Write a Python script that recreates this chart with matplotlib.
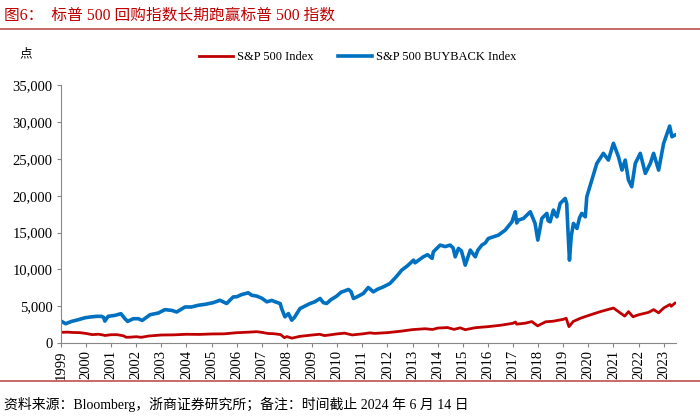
import numpy as np
import matplotlib
matplotlib.use("Agg")
import matplotlib.pyplot as plt
from matplotlib.ticker import FuncFormatter

# decimal years; tick labelled "1999" sits at the end of 1999 (= 2000.0)
spx_t = [2000.00, 2000.25, 2000.50, 2000.75, 2001.00, 2001.25, 2001.50, 2001.70,
         2001.75, 2002.00, 2002.25, 2002.50, 2002.60, 2002.75, 2003.00, 2003.20,
         2003.50, 2004.00, 2004.50, 2005.00, 2005.50, 2006.00, 2006.50, 2007.00,
         2007.50, 2007.80, 2008.00, 2008.25, 2008.50, 2008.75, 2008.90, 2009.00,
         2009.20, 2009.50, 2010.00, 2010.30, 2010.50, 2011.00, 2011.30, 2011.60,
         2012.00, 2012.30, 2012.50, 2013.00, 2013.50, 2014.00, 2014.50, 2014.80,
         2015.00, 2015.40, 2015.65, 2015.90, 2016.10, 2016.50, 2017.00, 2017.50,
         2018.00, 2018.10, 2018.15, 2018.50, 2018.75, 2018.98, 2019.30, 2019.60,
         2020.00, 2020.12, 2020.23, 2020.40, 2020.70, 2021.00, 2021.50, 2022.00,
         2022.45, 2022.60, 2022.78, 2023.00, 2023.40, 2023.60, 2023.80, 2024.00,
         2024.25, 2024.30, 2024.45]
spx_v = [1469, 1500, 1450, 1430, 1320, 1160, 1220, 1100,
         1040, 1150, 1150, 990, 800, 815, 880, 800,
         975, 1110, 1130, 1210, 1190, 1250, 1270, 1420,
         1500, 1560, 1470, 1320, 1280, 1160, 750, 900,
         680, 920, 1110, 1210, 1030, 1260, 1360, 1120,
         1260, 1400, 1330, 1430, 1610, 1840, 1960, 1860,
         2050, 2120, 1870, 2080, 1830, 2100, 2240, 2430,
         2700, 2870, 2580, 2720, 2930, 2350, 2900, 2980,
         3230, 3380, 2240, 2950, 3400, 3750, 4300, 4770,
         3670, 4280, 3580, 3850, 4180, 4550, 4120, 4770,
         5250, 5000, 5430]

bb_t = [2000.03, 2000.19, 2000.42, 2000.69, 2000.96, 2001.16, 2001.42, 2001.62,
        2001.70, 2001.75, 2001.88, 2002.15, 2002.39, 2002.55, 2002.66, 2002.88,
        2003.08, 2003.24, 2003.55, 2003.88, 2004.14, 2004.41, 2004.61, 2004.94,
        2005.20, 2005.47, 2005.74, 2006.07, 2006.33, 2006.53, 2006.60, 2006.86,
        2007.00, 2007.20, 2007.46, 2007.60, 2007.80, 2008.00, 2008.20, 2008.40,
        2008.53, 2008.73, 2008.80, 2008.92, 2009.06, 2009.19, 2009.30, 2009.52,
        2009.70, 2009.92, 2010.10, 2010.32, 2010.45, 2010.58, 2010.75, 2010.98,
        2011.15, 2011.45, 2011.55, 2011.65, 2011.80, 2012.04, 2012.24, 2012.44,
        2012.60, 2012.84, 2013.10, 2013.35, 2013.57, 2013.80, 2014.04, 2014.10,
        2014.43, 2014.60, 2014.78, 2014.83, 2015.10, 2015.30, 2015.50, 2015.62,
        2015.70, 2015.83, 2015.95, 2016.10, 2016.30, 2016.50, 2016.60, 2016.76,
        2016.90, 2017.02, 2017.42, 2017.69, 2017.96, 2018.09, 2018.15, 2018.22,
        2018.42, 2018.69, 2018.88, 2018.99, 2019.15, 2019.35, 2019.40, 2019.48,
        2019.61, 2019.68, 2019.75, 2019.88, 2020.08, 2020.14, 2020.18, 2020.25,
        2020.32, 2020.41, 2020.55, 2020.65, 2020.74, 2020.88, 2020.94, 2021.14,
        2021.34, 2021.60, 2021.80, 2022.00, 2022.20, 2022.34, 2022.47, 2022.60,
        2022.73, 2022.87, 2023.07, 2023.27, 2023.47, 2023.60, 2023.80, 2024.00,
        2024.24, 2024.33, 2024.45]
bb_v = [2950, 2640, 2950, 3180, 3450, 3550, 3640, 3640,
        3500, 3000, 3640, 3770, 4000, 3320, 2950, 3320,
        3320, 3090, 3860, 4090, 4550, 4450, 4230, 4910,
        4910, 5140, 5270, 5500, 5820, 5500, 5380, 6270,
        6290, 6600, 6830, 6500, 6380, 6100, 5610, 5800,
        5610, 5380, 4600, 3570, 4020, 3120, 3500, 4700,
        5000, 5380, 5600, 6060, 5500, 5380, 5900, 6380,
        6900, 7280, 7000, 6060, 6300, 6740, 7550, 6960,
        7300, 7640, 8090, 9000, 9900, 10500, 11260, 10900,
        11710, 12000, 11500, 12390, 13300, 13100, 13300, 12900,
        11710, 12850, 12500, 10580, 12620, 11710, 12600, 13300,
        13600, 14200, 14650, 15330, 16460, 17820, 16300, 16690,
        16920, 17820, 16240, 13980, 16920, 17600, 16600, 16460,
        18050, 17500, 17140, 18950, 19630, 18950, 16000, 11260,
        14500, 16240, 15560, 17000, 17600, 17140, 19860, 22120,
        24380, 25740, 24830, 27100, 25290, 23470, 24830, 22120,
        21210, 24380, 25740, 23020, 24380, 25740, 23470, 27100,
        29440, 27990, 28220]

tick_pos = list(range(2000, 2025))
tick_labels = [str(y) for y in range(1999, 2024)]

RED = "#C00000"
BLUE = "#0070C0"
FONTS = ["Liberation Serif", "Noto Sans CJK SC"]

plt.rcParams["font.family"] = FONTS

fig = plt.figure(figsize=(7, 4.17), dpi=100)
ax = fig.add_axes([0.087, 0.177, 0.879, 0.619])

ax.plot(spx_t, spx_v, color=RED, lw=2.0, label="S&P 500 Index")
ax.plot(bb_t, bb_v, color=BLUE, lw=2.6, label="S&P 500 BUYBACK Index")

ax.set_xlim(2000, 2024.5)
ax.set_ylim(0, 35000)
ax.set_yticks(np.arange(0, 35001, 5000))
ax.yaxis.set_major_formatter(FuncFormatter(lambda v, p: f"{int(v):,}"))
ax.set_xticks(tick_pos)
ax.set_xticklabels(tick_labels, rotation=90)
ax.tick_params(axis="both", labelsize=10.5, length=3, color="#888888", direction="out")
ax.tick_params(axis="x", pad=2)
ax.tick_params(axis="y", pad=3)

for s in ["top", "right"]:
    ax.spines[s].set_visible(False)
for s in ["left", "bottom"]:
    ax.spines[s].set_color("#888888")

ax.legend(loc="center", bbox_to_anchor=(0.482, 1.108), ncol=2, frameon=False,
          fontsize=9, handlelength=2.7, columnspacing=2.0, handletextpad=0.3)

fig.text(0.028, 0.87, "点", fontsize=9, va="center")

fig.text(0.005, 0.963, "图6：  标普 500 回购指数长期跑赢标普 500 指数",
         fontsize=11.3, color=RED, va="center")
fig.add_artist(plt.Line2D([0, 1], [0.93, 0.93], color="#C0504D", lw=1.2))
fig.add_artist(plt.Line2D([0, 1], [0.087, 0.087], color="#C0504D", lw=1.2))
fig.text(0.005, 0.029, "资料来源：Bloomberg，浙商证券研究所；备注：时间截止 2024 年 6 月 14 日",
         fontsize=10, va="center")

fig.savefig("out.png", dpi=100)
